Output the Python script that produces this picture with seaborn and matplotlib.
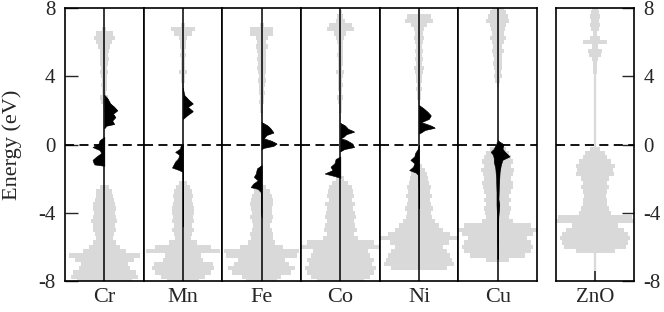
import numpy as np
import matplotlib
matplotlib.use("Agg")
import matplotlib.pyplot as plt
import seaborn as sns

# energy grid of the total DOS (eV)
energy = np.arange(-8, 8.001, 0.25)

panels = ["Cr", "Mn", "Fe", "Co", "Ni", "Cu"]

# total DOS (grey, mirrored), -8 ... 8 eV
cr_grey = [0.7, 0.85, 0.8, 0.65, 0.6, 0.75, 0.9, 0.55, 0.4,
           0.3, 0.22, 0.25, 0.3, 0.28, 0.33, 0.3, 0.27,
           0.3, 0.28, 0.25, 0.22, 0.2, 0.12, 0, 0,
           0, 0, 0, 0, 0, 0, 0, 0,
           0, 0, 0, 0, 0, 0, 0, 0.02,
           0.03, 0.08, 0.1, 0.05, 0.06, 0.08, 0.07, 0.08,
           0.1, 0.08, 0.1, 0.12, 0.1, 0.12, 0.15, 0.2,
           0.26, 0.22, 0.05, 0, 0, 0, 0, 0]
mn_grey = [0.4, 0.55, 0.7, 0.8, 0.75, 0.5, 0.45, 0.95, 0.7,
           0.35, 0.2, 0.22, 0.28, 0.24, 0.27, 0.25, 0.27,
           0.28, 0.25, 0.22, 0.25, 0.22, 0.18, 0.1, 0,
           0, 0, 0, 0, 0, 0, 0, 0,
           0, 0, 0, 0, 0, 0, 0, 0,
           0, 0, 0, 0.02, 0.03, 0.03, 0.04, 0.06,
           0.1, 0.05, 0.05, 0.06, 0.07, 0.06, 0.07, 0.08,
           0.1, 0.22, 0.3, 0.05, 0, 0, 0, 0]
fe_grey = [0.4, 0.5, 0.75, 0.85, 0.7, 0.6, 0.9, 0.95, 0.55,
           0.35, 0.28, 0.3, 0.25, 0.22, 0.25, 0.3, 0.25,
           0.27, 0.3, 0.28, 0.25, 0.2, 0.12, 0, 0,
           0, 0, 0, 0, 0, 0, 0, 0,
           0, 0, 0, 0, 0, 0, 0.02, 0.03,
           0.04, 0.06, 0.05, 0.08, 0.06, 0.08, 0.1, 0.08,
           0.1, 0.12, 0.1, 0.12, 0.1, 0.12, 0.15, 0.12,
           0.15, 0.3, 0.3, 0.05, 0, 0, 0, 0]
co_grey = [0.6, 0.75, 0.85, 0.9, 0.8, 0.85, 0.75, 0.7, 1.0,
           0.85, 0.45, 0.35, 0.42, 0.38, 0.35, 0.4, 0.36,
           0.33, 0.38, 0.3, 0.35, 0.32, 0.3, 0.2, 0.1,
           0, 0, 0, 0, 0, 0, 0, 0,
           0, 0, 0, 0, 0, 0.02, 0.02, 0.03,
           0.04, 0.05, 0.08, 0.04, 0.05, 0.06, 0.05, 0.06,
           0.1, 0.05, 0.06, 0.07, 0.08, 0.06, 0.07, 0.08,
           0.1, 0.15, 0.35, 0.3, 0.12, 0.08, 0.03, 0]
ni_grey = [0, 0, 0, 0.7, 0.9, 0.85, 0.8, 0.7, 0.6,
           0.75, 1.0, 0.8, 0.6, 0.5, 0.4, 0.32, 0.3,
           0.35, 0.3, 0.28, 0.32, 0.28, 0.3, 0.25, 0.22,
           0.2, 0.15, 0.08, 0, 0, 0, 0, 0,
           0, 0, 0, 0, 0, 0, 0, 0,
           0, 0.03, 0.04, 0.05, 0.07, 0.06, 0.08, 0.07,
           0.1, 0.12, 0.08, 0.1, 0.08, 0.1, 0.08, 0.1,
           0.12, 0.1, 0.12, 0.2, 0.35, 0.3, 0.03, 0]
cu_grey = [0, 0, 0, 0, 0, 0.3, 0.7, 0.85, 0.9,
           0.85, 0.75, 0.9, 1.0, 0.85, 0.4, 0.3, 0.32,
           0.35, 0.3, 0.35, 0.3, 0.35, 0.38, 0.4, 0.35,
           0.38, 0.42, 0.35, 0.4, 0.35, 0.3, 0.2, 0.05,
           0, 0, 0, 0, 0, 0, 0, 0,
           0, 0, 0, 0, 0, 0.03, 0.06, 0.1,
           0.08, 0.1, 0.12, 0.1, 0.12, 0.15, 0.12, 0.15,
           0.2, 0.15, 0.18, 0.2, 0.3, 0.25, 0.2, 0.15]
zno_grey = [0, 0, 0, 0, 0, 0, 0, 0.5, 0.8,
            0.85, 0.9, 0.85, 0.75, 0.6, 1.0, 0.95, 0.4,
            0.35, 0.3, 0.32, 0.28, 0.3, 0.35, 0.3, 0.35,
            0.48, 0.45, 0.5, 0.4, 0.3, 0.25, 0.12, 0.02,
            0, 0, 0, 0, 0, 0, 0, 0,
            0, 0, 0, 0, 0, 0, 0.02, 0.03,
            0.04, 0.05, 0.06, 0.08, 0.15, 0.17, 0.08, 0.3,
            0.12, 0.06, 0.1, 0.12, 0.1, 0.12, 0.1, 0.08]

# dopant d-states (black): right side and left side
cr_r_e = [2.9, 2.7, 2.4, 2.2, 2.0, 1.8, 1.6, 1.4, 1.2, 1.1, 0.95]
cr_r = [0, 0.08, 0.15, 0.25, 0.33, 0.22, 0.28, 0.2, 0.25, 0.05, 0]
cr_l_e = [0.45, 0.25, 0.05, -0.15, -0.33, -0.5, -0.7, -0.9, -1.05, -1.17, -1.25]
cr_l = [0, 0.12, 0.15, 0.3, 0.12, 0.08, 0.2, 0.3, 0.28, 0.25, 0]

mn_r_e = [3.3, 2.9, 2.6, 2.4, 2.2, 1.95, 1.7, 1.5]
mn_r = [0, 0.03, 0.15, 0.25, 0.12, 0.25, 0.1, 0]
mn_l_e = [0.05, 0, -0.25, -0.43, -0.6, -0.8, -1.0, -1.35, -1.5, -1.6, -2.6, -4.7, -4.8]
mn_l = [0, 0.05, 0.08, 0.2, 0.1, 0.12, 0.2, 0.28, 0.1, 0.01, 0.01, 0.01, 0]

fe_r_e = [1.3, 1.1, 0.95, 0.7, 0.55, 0.35, 0.2, 0.05, -0.08, -0.2, -0.27]
fe_r = [0, 0.15, 0.22, 0.3, 0.12, 0.05, 0.25, 0.38, 0.3, 0.05, 0]
fe_l_e = [-1.2, -1.4, -1.7, -1.9, -2.1, -2.3, -2.5, -2.6, -2.8, -4.0, -4.3]
fe_l = [0, 0.12, 0.15, 0.2, 0.1, 0.22, 0.28, 0.1, 0.02, 0.015, 0]

co_r_e = [1.25, 1.1, 0.9, 0.75, 0.6, 0.45, 0.35, 0.25, 0.05, -0.15, -0.27, -0.4]
co_r = [0, 0.12, 0.2, 0.35, 0.15, 0.08, 0, 0.15, 0.3, 0.35, 0.1, 0]
co_l_e = [-0.7, -0.85, -1.1, -1.3, -1.5, -1.7, -1.85, -1.95]
co_l = [0, 0.12, 0.15, 0.25, 0.2, 0.4, 0.15, 0]

ni_r_e = [2.3, 2.1, 1.9, 1.7, 1.5, 1.3, 1.1, 0.98, 0.85, 0.7, 0.65]
ni_r = [0, 0.12, 0.22, 0.3, 0.25, 0.05, 0.3, 0.4, 0.15, 0.05, 0]
ni_l_e = [0, -0.25, -0.5, -0.7, -0.9, -1.1, -1.3, -1.5, -1.65, -1.8, -2.8, -3.55, -3.75]
ni_l = [0, 0.03, 0.1, 0.12, 0.22, 0.12, 0.15, 0.25, 0.08, 0.02, 0.01, 0.01, 0]

cu_r_e = [0.25, 0.15, 0, -0.25, -0.43, -0.7, -0.9, -1.2, -1.6, -2.4, -3.2, -3.55, -4.3, -5.5, -6.5, -6.7]
cu_r = [0, 0.05, 0.15, 0.12, 0.18, 0.3, 0.12, 0.08, 0.05, 0.03, 0.02, 0.04, 0.015, 0.01, 0.01, 0]
cu_l_e = [0.15, 0, -0.25, -0.43, -0.6, -0.8, -1.0, -1.4, -2.0, -2.8, -3.55, -4.3, -5.5, -6.7]
cu_l = [0, 0.05, 0.1, 0.18, 0.12, 0.1, 0.1, 0.06, 0.04, 0.03, 0.03, 0.015, 0.01, 0]

greys = [cr_grey, mn_grey, fe_grey, co_grey, ni_grey, cu_grey]
rights = [(cr_r_e, cr_r), (mn_r_e, mn_r), (fe_r_e, fe_r), (co_r_e, co_r), (ni_r_e, ni_r), (cu_r_e, cu_r)]
lefts = [(cr_l_e, cr_l), (mn_l_e, mn_l), (fe_l_e, fe_l), (co_l_e, co_l), (ni_l_e, ni_l), (cu_l_e, cu_l)]

GREY = "#d9d9d9"

sns.set_style("ticks")
plt.rcParams["font.family"] = ["Liberation Serif", "DejaVu Serif"]
plt.rcParams["axes.unicode_minus"] = False

fig = plt.figure(figsize=(6.64, 3.12), dpi=100)
W, H = 664.0, 312.0
bottom = (H - 281) / H
height = 273 / H
pw = 78.67


def style_axis(ax):
    ax.set_xlim(-1, 1)
    ax.set_ylim(-8, 8)
    for s in ax.spines.values():
        s.set_linewidth(1.2)
        s.set_color("k")
    ax.set_yticks([-8, -4, 0, 4, 8])
    ax.tick_params(axis="y", direction="in", length=9, width=1, labelsize=15,
                   pad=7, left=False, right=False, labelleft=False, labelright=False)
    ax.axhline(0, color="k", lw=1.3, ls=(0, (5, 3)), zorder=5)


for i, name in enumerate(panels):
    ax = fig.add_axes([(65 + pw * i) / W, bottom, pw / W, height])
    style_axis(ax)
    g = np.array(greys[i])
    ax.fill_betweenx(energy, -g, g, step="mid", color=GREY, lw=0, zorder=1)
    re, rv = rights[i]
    le, lv = lefts[i]
    ax.fill_betweenx(re, 0, rv, color="k", lw=0.4, zorder=3)
    ax.fill_betweenx(le, -np.array(lv), 0, color="k", lw=0.4, zorder=3)
    sns.lineplot(x=rv, y=re, sort=False, estimator=None, color="k", lw=0.4, ax=ax, zorder=3)
    ax.axvline(0, color="k", lw=1.1, zorder=4)
    ax.set_xticks([])
    ax.set_ylabel("")
    ax.set_xlabel(name, fontsize=16, labelpad=5)
    if i == 0:
        ax.tick_params(axis="y", left=True, labelleft=True)

fig.text(12 / W, 1 - 144.5 / H, "Energy (eV)", rotation=90, fontsize=16,
         ha="center", va="center")

ax = fig.add_axes([556 / W, bottom, 78 / W, height])
style_axis(ax)
ax.axvline(0, color=GREY, lw=1.6, zorder=0)
g = np.array(zno_grey)
ax.fill_betweenx(energy, -g, g, step="mid", color=GREY, lw=0, zorder=1)
ax.set_xticks([0])
ax.tick_params(axis="x", direction="in", length=7, width=1.2, top=True, bottom=True,
               labelbottom=False)
ax.tick_params(axis="y", right=True, labelright=True)
ax.set_xlabel("ZnO", fontsize=15, labelpad=5)

fig.save_fig = None
fig.savefig("out.png", dpi=100)
